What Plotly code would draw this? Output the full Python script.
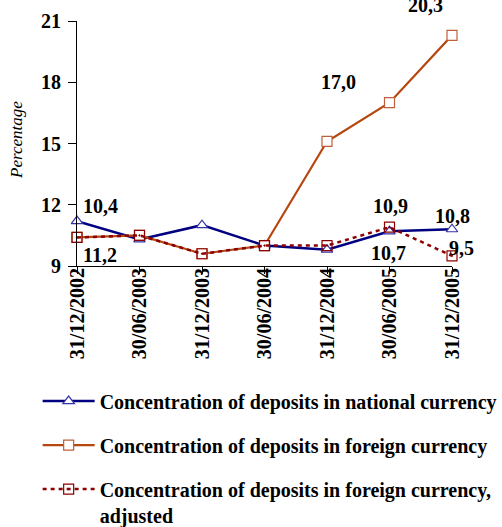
import plotly.graph_objects as go

dates = ["31/12/2002", "30/06/2003", "31/12/2003", "30/06/2004", "31/12/2004", "30/06/2005", "31/12/2005"]
national = [11.2, 10.3, 11.0, 10.0, 9.8, 10.7, 10.8]
foreign = [10.4, 10.5, 9.6, 10.0, 15.1, 17.0, 20.3]
foreign_adj = [10.4, 10.5, 9.6, 10.0, 10.0, 10.9, 9.5]

y_ticks = [9, 12, 15, 18, 21]

# value labels: (text, x index, y value, x shift px, y shift px)
labels = [
    ("20,3", 5.57, 21.0, 0, 16),
    ("17,0", 4.19, 18.0, 0, 0),
    ("10,4", 0.37, 11.92, 0, 0),
    ("11,2", 0.37, 9.55, 0, 0),
    ("10,9", 5.01, 11.96, 0, 0),
    ("10,7", 4.98, 9.66, 0, 0),
    ("10,8", 6.0, 11.47, 0, 0),
    ("9,5", 6.0, 9.88, 9, 0),
]

FONT = "Liberation Serif"
x_idx = list(range(len(dates)))

fig = go.Figure()
fig.add_trace(go.Scatter(
    x=x_idx, y=national, mode="lines+markers",
    name="<b>Concentration of deposits in national currency</b>",
    line=dict(color="#000080", width=2.5),
    marker=dict(symbol="triangle-up", size=10, color="white", line=dict(color="#3333aa", width=1.2)),
    legendgroup="a", cliponaxis=False,
))
fig.add_trace(go.Scatter(
    x=x_idx, y=foreign, mode="lines+markers",
    name="<b>Concentration of deposits in foreign currency</b>",
    line=dict(color="#b5470f", width=2.2),
    marker=dict(symbol="square", size=10, color="white", line=dict(color="#c0603a", width=1.2)),
    legendgroup="b", cliponaxis=False,
))
fig.add_trace(go.Scatter(
    x=x_idx, y=foreign_adj, mode="lines+markers",
    name="<b>Concentration of deposits in foreign currency,<br>adjusted</b>",
    line=dict(color="#8b0000", width=2.5, dash="4px,4px"),
    marker=dict(symbol="square-open-dot", size=10, color="#8b0000", line=dict(color="#8b0000", width=1.2)),
    legendgroup="c", cliponaxis=False,
))

for t, xx, yy, xs, ys in labels:
    fig.add_annotation(x=xx, y=yy, text="<b>%s</b>" % t, showarrow=False,
                       font=dict(family=FONT, size=20, color="black"),
                       xanchor="center", yanchor="middle", xshift=xs, yshift=ys)

fig.add_annotation(xref="paper", yref="paper", x=-0.163, y=0.514,
                   text="<i>Percentage</i>", textangle=-90, showarrow=False,
                   font=dict(family=FONT, size=17, color="black"),
                   xanchor="center", yanchor="middle")

fig.update_layout(
    width=502, height=527,
    paper_bgcolor="white", plot_bgcolor="white",
    margin=dict(l=77, r=50, t=21, b=261, autoexpand=False),
    font=dict(family=FONT, color="black"),
    showlegend=True,
    legend=dict(
        orientation="v", xref="container", yref="container",
        x=0.075, y=0.276, xanchor="left", yanchor="top",
        font=dict(family=FONT, size=20, color="black"),
        tracegroupgap=15, itemwidth=52, valign="top",
        bgcolor="rgba(0,0,0,0)",
    ),
    xaxis=dict(
        range=[0, 6], tickmode="array", tickvals=x_idx,
        ticktext=["<b>%s</b>" % d for d in dates],
        tickangle=-90, showgrid=False, zeroline=False,
        showline=True, linecolor="black", linewidth=1,
        ticks="outside", ticklen=7, tickcolor="black",
        tickfont=dict(family=FONT, size=20, color="black"),
        ticklabelstandoff=-14, automargin=False,
    ),
    yaxis=dict(
        range=[9, 21], tickmode="array", tickvals=y_ticks,
        ticktext=["<b>%d</b>" % v for v in y_ticks],
        showgrid=False, zeroline=False,
        showline=True, linecolor="black", linewidth=1,
        ticks="outside", ticklen=8, tickcolor="black",
        tickfont=dict(family=FONT, size=20, color="black"),
        ticklabelstandoff=3,
        automargin=False,
    ),
)

fig.write_html("out.html", config={"displayModeBar": False},
               post_script="document.body.style.margin='0';document.body.style.padding='0';")
